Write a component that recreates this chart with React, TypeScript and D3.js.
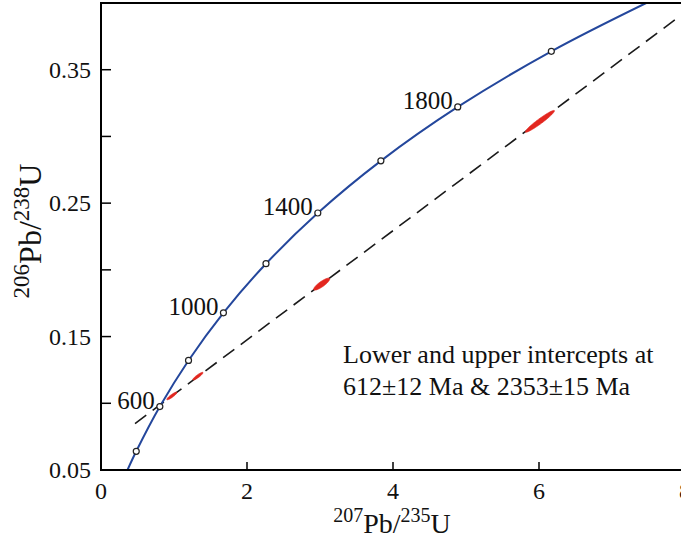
import React from "react";
import * as d3 from "d3";

// Concordia curve points (207Pb/235U, 206Pb/238U); ages in Ma
const concordiaAge = [315, 400, 600, 800, 1000, 1200, 1400, 1600, 1800, 2000, 2169];
const concordiaX = [0.363, 0.483, 0.806, 1.199, 1.677, 2.26, 2.97, 3.834, 4.887, 6.169, 7.468];
const concordiaY = [0.05, 0.064, 0.0975, 0.1321, 0.1678, 0.2046, 0.2426, 0.2817, 0.3221, 0.3638, 0.4];
const markerAges = [400, 600, 800, 1000, 1200, 1400, 1600, 1800, 2000];
const labelledAges = [600, 1000, 1400, 1800];

// Discordia (dashed) end points
const discordiaX = [0.466, 7.87];
const discordiaY = [0.0848, 0.3877];

// Error ellipses of analyses
const ellX = [0.971, 1.327, 3.023, 6.012];
const ellY = [0.1055, 0.1203, 0.1893, 0.3113];
const ellSx = [0.07, 0.07, 0.11, 0.2];
const ellSy = [0.0029, 0.0029, 0.0045, 0.0082];
const ellRho = [0.9, 0.9, 0.85, 0.96];

const xTicks = [0, 2, 4, 6, 8];
const yTicks = [0.1, 0.15, 0.2, 0.25, 0.3, 0.35];
const yTickLabels = [0.05, 0.15, 0.25, 0.35];

const noteLines = ["Lower and upper intercepts at", "612\u00b112 Ma & 2353\u00b115 Ma"];

const FONT = "'Liberation Serif', 'Times New Roman', serif";

export default function App() {
  const W = 681;
  const H = 540;
  const x = d3.scaleLinear().domain([0, 8]).range([101, 685]);
  const y = d3.scaleLinear().domain([0.05, 0.4]).range([470, 3]);

  const pts = concordiaX.map((v, i) => [x(v), y(concordiaY[i])] as [number, number]);
  const conc = d3.line().curve(d3.curveCatmullRom.alpha(0.5))(pts) || "";

  const disc = d3.line()(discordiaX.map((v, i) => [x(v), y(discordiaY[i])] as [number, number])) || "";

  const ellipses = ellX.map((cx, i) => {
    const n = 60;
    const p: [number, number][] = [];
    const s = Math.sqrt(1 - ellRho[i] * ellRho[i]);
    for (let k = 0; k <= n; k++) {
      const t = (k / n) * Math.PI * 2;
      const dx = ellSx[i] * Math.cos(t);
      const dy = ellSy[i] * (ellRho[i] * Math.cos(t) + s * Math.sin(t));
      p.push([x(cx + dx), y(ellY[i] + dy)]);
    }
    return d3.line().curve(d3.curveLinearClosed)(p) || "";
  });

  return (
    <svg
      width={W}
      height={H}
      style={{ position: "fixed", left: 0, top: 0, background: "#fff" }}
      fontFamily={FONT}
    >
      <defs>
        <clipPath id="plot">
          <rect x={101} y={3} width={584} height={467} />
        </clipPath>
      </defs>
      <rect x={0} y={0} width={W} height={H} fill="#fff" />

      <g clipPath="url(#plot)">
        <path d={disc} fill="none" stroke="#1a1a1a" strokeWidth={1.6} strokeDasharray="14 8" />
        {ellipses.map((d, i) => (
          <path key={i} d={d} fill="#e3261f" stroke="#e3261f" strokeWidth={0.6} />
        ))}
        <path d={conc} fill="none" stroke="#24479c" strokeWidth={2} />
        {markerAges.map((a) => {
          const i = concordiaAge.indexOf(a);
          return (
            <circle
              key={a}
              cx={x(concordiaX[i])}
              cy={y(concordiaY[i])}
              r={3}
              fill="#fff"
              stroke="#222"
              strokeWidth={1.2}
            />
          );
        })}
      </g>

      {labelledAges.map((a) => {
        const i = concordiaAge.indexOf(a);
        return (
          <text
            key={a}
            x={x(concordiaX[i]) - 5}
            y={y(concordiaY[i]) + 2}
            textAnchor="end"
            fontSize={25}
            fill="#111"
          >
            {a}
          </text>
        );
      })}

      {/* frame */}
      <line x1={101} y1={3} x2={101} y2={470} stroke="#000" strokeWidth={2} />
      <line x1={100} y1={470} x2={685} y2={470} stroke="#000" strokeWidth={2} />
      <line x1={100} y1={3} x2={685} y2={3} stroke="#000" strokeWidth={2} />

      {yTicks.map((t) => (
        <line key={t} x1={101} x2={111} y1={y(t)} y2={y(t)} stroke="#000" strokeWidth={1.5} />
      ))}
      {xTicks.slice(1).map((t) => (
        <line key={t} x1={x(t)} x2={x(t)} y1={470} y2={462} stroke="#000" strokeWidth={1.5} />
      ))}

      {yTickLabels.map((t) => (
        <text key={t} x={91} y={y(t) + 8} textAnchor="end" fontSize={24} fill="#111">
          {d3.format(".2f")(t)}
        </text>
      ))}
      {xTicks.map((t) => (
        <text key={t} x={x(t)} y={499} textAnchor="middle" fontSize={24} fill="#111">
          {t}
        </text>
      ))}

      <text x={392} y={533} textAnchor="middle" fontSize={28} fill="#111">
        <tspan fontSize={20} dy={-11}>207</tspan>
        <tspan dy={11}>Pb/</tspan>
        <tspan fontSize={20} dy={-11}>235</tspan>
        <tspan dy={11}>U</tspan>
      </text>

      <text transform="translate(41,231) rotate(-90)" textAnchor="middle" fontSize={32} fill="#111">
        <tspan fontSize={23} dy={-12}>206</tspan>
        <tspan dy={12}>Pb/</tspan>
        <tspan fontSize={23} dy={-12}>238</tspan>
        <tspan dy={12}>U</tspan>
      </text>

      {noteLines.map((l, i) => (
        <text key={i} x={343} y={363 + i * 32} fontSize={26} fill="#111">
          {l}
        </text>
      ))}
    </svg>
  );
}
